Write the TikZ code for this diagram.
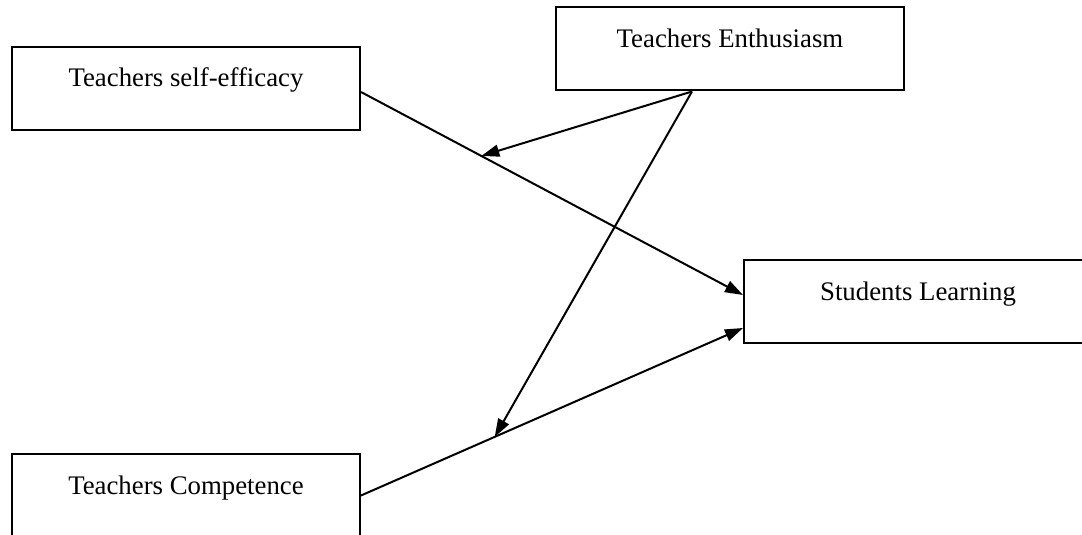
\documentclass[tikz,border=0pt]{standalone}
\usepackage{fontspec}
\setmainfont{Liberation Serif}
\usetikzlibrary{arrows.meta}
\tikzset{
  factor/.style={draw, line width=1pt, inner sep=0pt, minimum width=174pt,
    text height=20pt, text depth=21.5pt, font=\fontsize{13.4}{16}\selectfont},
  link/.style={line width=1pt, -{Triangle[length=9pt,width=6pt]}}
}
\begin{document}
\begin{tikzpicture}[x=0.5pt,y=-0.5pt]
  \useasboundingbox (0,0) rectangle (1082,535);
  \node[factor] (se) at (186,88.5) {Teachers self-efficacy};
  \node[factor] (en) at (730,49) {Teachers Enthusiasm};
  \node[factor] (sl) at (918,301.5) {Students Learning};
  \node[factor] (tc) at (186,495.5) {Teachers Competence};
  % direct paths
  \draw[link] ([yshift=-1.75pt]se.east) -- ([yshift=3.25pt]sl.west) coordinate[pos=0.315] (m1);
  \draw[link] (tc.east) -- ([yshift=-13.25pt]sl.west) coordinate[pos=0.35] (m2);
  % moderating paths
  \draw[link] ([xshift=-19pt]en.south) -- (m1);
  \draw[link] ([xshift=-19pt]en.south) -- (m2);
\end{tikzpicture}
\end{document}
